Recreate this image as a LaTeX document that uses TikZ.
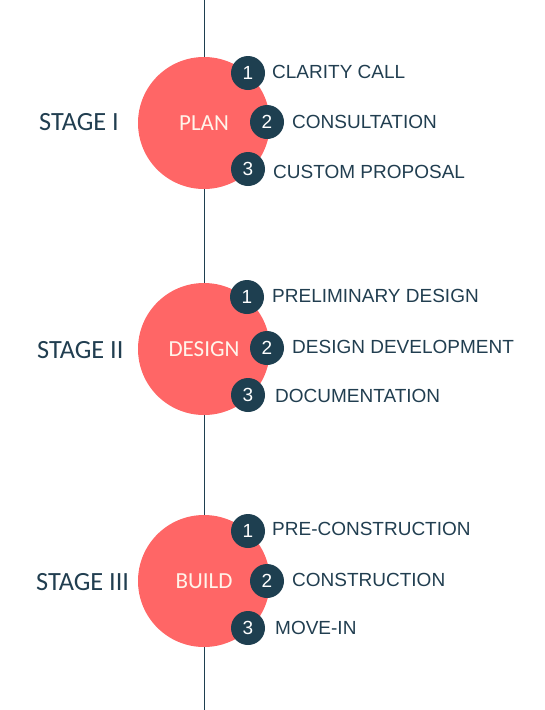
\documentclass[tikz,border=0pt]{standalone}
\usepackage{fontspec}
\setmainfont{Liberation Sans}
\newfontfamily\carlito{Carlito}
\definecolor{coral}{HTML}{FF6666}
\definecolor{navy}{HTML}{1E3F50}
\definecolor{txt}{HTML}{213E50}
\definecolor{cream}{HTML}{FFF4EA}
\begin{document}
\begin{tikzpicture}[x=1pt,y=-1pt,
  bigc/.style={circle,fill=coral,minimum size=132pt,inner sep=0pt,text=cream,font=\carlito\fontsize{23}{26}\selectfont},
  numc/.style={circle,fill=navy,minimum size=34pt,inner sep=0pt,text=white,font=\fontsize{19}{21}\selectfont},
  item/.style={anchor=west,inner sep=0pt,text=txt,font=\fontsize{19}{21}\selectfont},
  stagelbl/.style={anchor=west,inner sep=0pt,text=txt,font=\carlito\fontsize{26.3}{29}\selectfont}]
\useasboundingbox (0,0) rectangle (544,710);
\coordinate (top) at (204,0);
\coordinate (bot) at (204,710);
\draw[navy,line width=1pt] (top) -- (bot);
% Stage I
\node[bigc] (c1) at (204,123) {PLAN};
\node[numc] (n11) at (248,73) {1};
\node[numc] (n12) at (267,122) {2};
\node[numc] (n13) at (248,169) {3};
\node[item] (t11) at (272,72) {CLARITY CALL};
\node[item] (t12) at (292,122) {CONSULTATION};
\node[item] (t13) at (273,172) {CUSTOM PROPOSAL};
\node[stagelbl] (s1) at (39,122) {STAGE I};
% Stage II
\node[bigc] (c2) at (204,349) {DESIGN};
\node[numc] (n21) at (247,297) {1};
\node[numc] (n22) at (267,348) {2};
\node[numc] (n23) at (248,395) {3};
\node[item] (t21) at (272,296) {PRELIMINARY DESIGN};
\node[item] (t22) at (292,347) {DESIGN DEVELOPMENT};
\node[item] (t23) at (275,396) {DOCUMENTATION};
\node[stagelbl] (s2) at (37,350) {STAGE II};
% Stage III
\node[bigc] (c3) at (204,581) {BUILD};
\node[numc] (n31) at (248,531) {1};
\node[numc] (n32) at (267,581) {2};
\node[numc] (n33) at (248,628) {3};
\node[item] (t31) at (272,529) {PRE-CONSTRUCTION};
\node[item] (t32) at (292,580) {CONSTRUCTION};
\node[item] (t33) at (275,628) {MOVE-IN};
\node[stagelbl] (s3) at (36,582) {STAGE III};
\end{tikzpicture}
\end{document}
